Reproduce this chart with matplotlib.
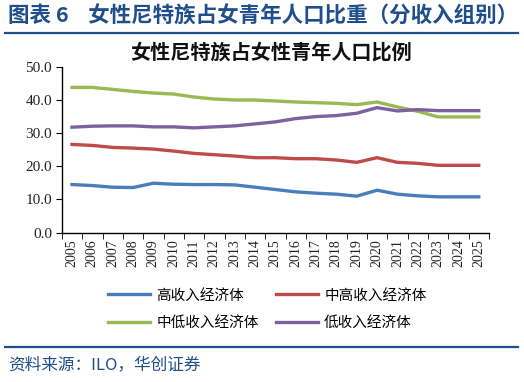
import numpy as np
import matplotlib
matplotlib.use("Agg")
import matplotlib.pyplot as plt
from matplotlib.ticker import FixedLocator

plt.rcParams['font.family'] = ['Noto Sans CJK SC', 'DejaVu Sans']

years = [str(y) for y in range(2005, 2026)]
high = [14.5, 14.2, 13.7, 13.6, 14.9, 14.6, 14.5, 14.5, 14.4, 13.7, 13.0,
        12.3, 11.9, 11.6, 11.0, 12.8, 11.6, 11.1, 10.8, 10.8, 10.8]
upper_mid = [26.6, 26.3, 25.7, 25.5, 25.2, 24.6, 23.9, 23.5, 23.1, 22.6, 22.6,
             22.3, 22.3, 21.9, 21.2, 22.6, 21.2, 20.9, 20.3, 20.3, 20.3]
lower_mid = [43.8, 43.8, 43.2, 42.6, 42.1, 41.8, 40.9, 40.3, 40.0, 40.0, 39.7,
             39.4, 39.2, 39.0, 38.6, 39.4, 37.9, 36.6, 34.9, 34.9, 34.9]
low = [31.8, 32.1, 32.2, 32.2, 31.9, 31.9, 31.6, 31.9, 32.2, 32.8, 33.4,
       34.4, 35.0, 35.3, 36.0, 37.7, 36.7, 37.1, 36.8, 36.8, 36.8]

series = [
    ("高收入经济体", high, "#4A7EBB"),
    ("中高收入经济体", upper_mid, "#BE4B48"),
    ("中低收入经济体", lower_mid, "#98B954"),
    ("低收入经济体", low, "#7D60A0"),
]

fig = plt.figure(figsize=(5.24, 3.82), dpi=100)
ax = fig.add_axes([0.118, 0.391, 0.815, 0.434])

x = np.arange(len(years))
lines = {}
for name, vals, color in series:
    lines[name], = ax.plot(x, vals, color=color, linewidth=2.4, label=name)

ax.set_xlim(-0.5, len(years) - 0.5)
ax.set_ylim(0, 50)
ax.set_yticks(np.arange(0, 51, 10))
ax.set_yticklabels([f"{v:.1f}" for v in np.arange(0, 51, 10)],
                   family="Liberation Serif", fontsize=11, color="#222222")
ax.set_xticks(x)
ax.set_xticklabels(years, rotation=90, family="Liberation Serif",
                   fontsize=10, color="#222222")
ax.xaxis.set_minor_locator(FixedLocator(np.arange(-0.5, len(years), 1)))
ax.tick_params(axis="x", which="major", length=0, pad=5)
ax.tick_params(axis="x", which="minor", length=4, direction="out")
ax.tick_params(axis="y", length=4, direction="out", pad=3)
for s in ["top", "right"]:
    ax.spines[s].set_visible(False)
for s in ["left", "bottom"]:
    ax.spines[s].set_linewidth(1.0)
    ax.spines[s].set_color("black")

ax.set_title("女性尼特族占女性青年人口比例", fontsize=14.5, fontweight="bold",
             pad=6, color="#111111", x=0.49)

order = ["高收入经济体", "中低收入经济体", "中高收入经济体", "低收入经济体"]
fig.legend([lines[n] for n in order], order, ncol=2, loc="center",
           bbox_to_anchor=(0.51, 0.19), frameon=False, fontsize=10.5,
           handlelength=2.9, columnspacing=1.2, labelspacing=0.95,
           handletextpad=0.4)

fig.text(0.016, 0.958, "图表 6    女性尼特族占女青年人口比重（分收入组别）",
         fontsize=15.5, fontweight="bold", color="#1F4E8C", va="center")
fig.add_artist(plt.Line2D([0.01, 0.988], [0.914, 0.914], color="#1F4E8C",
                          linewidth=1.6))
fig.add_artist(plt.Line2D([0.01, 0.988], [0.092, 0.092], color="#1F4E8C",
                          linewidth=1.6))
fig.text(0.016, 0.045, "资料来源：ILO，华创证券", fontsize=12,
         style="italic", color="#1F4E8C", va="center")

fig.savefig("out.png", dpi=100)
